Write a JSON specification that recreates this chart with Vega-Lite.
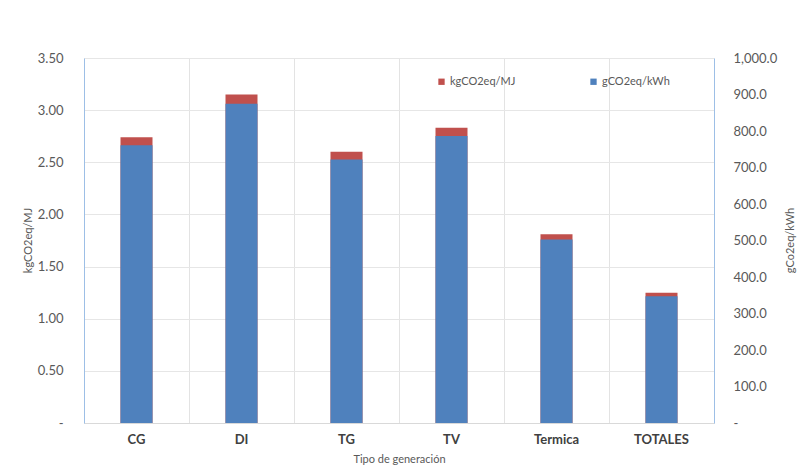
{
  "$schema": "https://vega.github.io/schema/vega-lite/v6.json",
  "autosize": {"type": "none"},
  "padding": {"left": 84, "top": 58, "right": 91, "bottom": 46},
  "width": 630,
  "height": 365,
  "background": "#ffffff",
  "config": {
    "font": "Lato",
    "view": {"stroke": null},
    "axis": {"labelColor": "#595959", "titleColor": "#595959", "titleFontWeight": "normal", "ticks": false}
  },
  "data": {
    "values": [
      {"tipo": "CG", "kg": 2.74, "g": 761},
      {"tipo": "DI", "kg": 3.15, "g": 875},
      {"tipo": "TG", "kg": 2.60, "g": 722},
      {"tipo": "TV", "kg": 2.83, "g": 786},
      {"tipo": "Termica", "kg": 1.81, "g": 503},
      {"tipo": "TOTALES", "kg": 1.25, "g": 347}
    ]
  },
  "encoding": {
    "x": {
      "field": "tipo", "type": "nominal", "sort": null,
      "scale": {"paddingInner": 0, "paddingOuter": 0},
      "axis": {
        "title": "Tipo de generación", "labelAngle": 0, "labelFontSize": 13,
        "labelFontWeight": "bold",
        "labelPadding": 10, "titleFontSize": 11, "titlePadding": 7,
        "grid": true, "gridColor": "#e3e3e3", "bandPosition": 0,
        "domainColor": "#d9d9d9", "labelColor": "#404040"
      }
    }
  },
  "layer": [
    {
      "mark": {"type": "bar", "width": 32},
      "encoding": {
        "y": {
          "field": "kg", "type": "quantitative",
          "scale": {"domain": [0, 3.5], "nice": false},
          "axis": {
            "orient": "left", "title": "kgCO2eq/MJ", "values": [0, 0.5, 1, 1.5, 2, 2.5, 3, 3.5],
            "labelExpr": "datum.value == 0 ? '-' : format(datum.value, '.2f')",
            "labelFontSize": 13, "labelPadding": 21,
            "grid": true, "gridColor": "#e6e6e6",
            "domainColor": "#9dbfe6",
            "titleFontSize": 11, "titleAngle": -90, "titleX": -56, "titleY": 182,
            "titleAlign": "center", "titleBaseline": "middle"
          }
        },
        "color": {
          "datum": "kgCO2eq/MJ",
          "scale": {"domain": ["kgCO2eq/MJ", "gCO2eq/kWh"], "range": ["#c0504d", "#4f81bd"]},
          "legend": {
            "title": null, "orient": "none", "legendX": 352, "legendY": 18,
            "direction": "horizontal", "symbolType": "square", "symbolSize": 40,
            "symbolStrokeWidth": 0, "labelFontSize": 11, "labelColor": "#595959",
            "labelOffset": 3, "columnPadding": 72
          }
        }
      }
    },
    {
      "mark": {"type": "bar", "width": 32},
      "encoding": {
        "y": {
          "field": "g", "type": "quantitative",
          "scale": {"domain": [0, 1000], "nice": false},
          "axis": {
            "orient": "right", "title": "gCo2eq/kWh", "values": [0, 100, 200, 300, 400, 500, 600, 700, 800, 900, 1000],
            "labelExpr": "datum.value == 0 ? '-' : format(datum.value, ',.1f')",
            "labelFontSize": 13, "labelPadding": 19,
            "grid": false,
            "domainColor": "#9dbfe6",
            "titleFontSize": 11, "titleAngle": -90, "titleX": 76, "titleY": 182,
            "titleAlign": "center", "titleBaseline": "middle"
          }
        },
        "color": {"datum": "gCO2eq/kWh"}
      }
    }
  ],
  "resolve": {"scale": {"y": "independent"}}
}
